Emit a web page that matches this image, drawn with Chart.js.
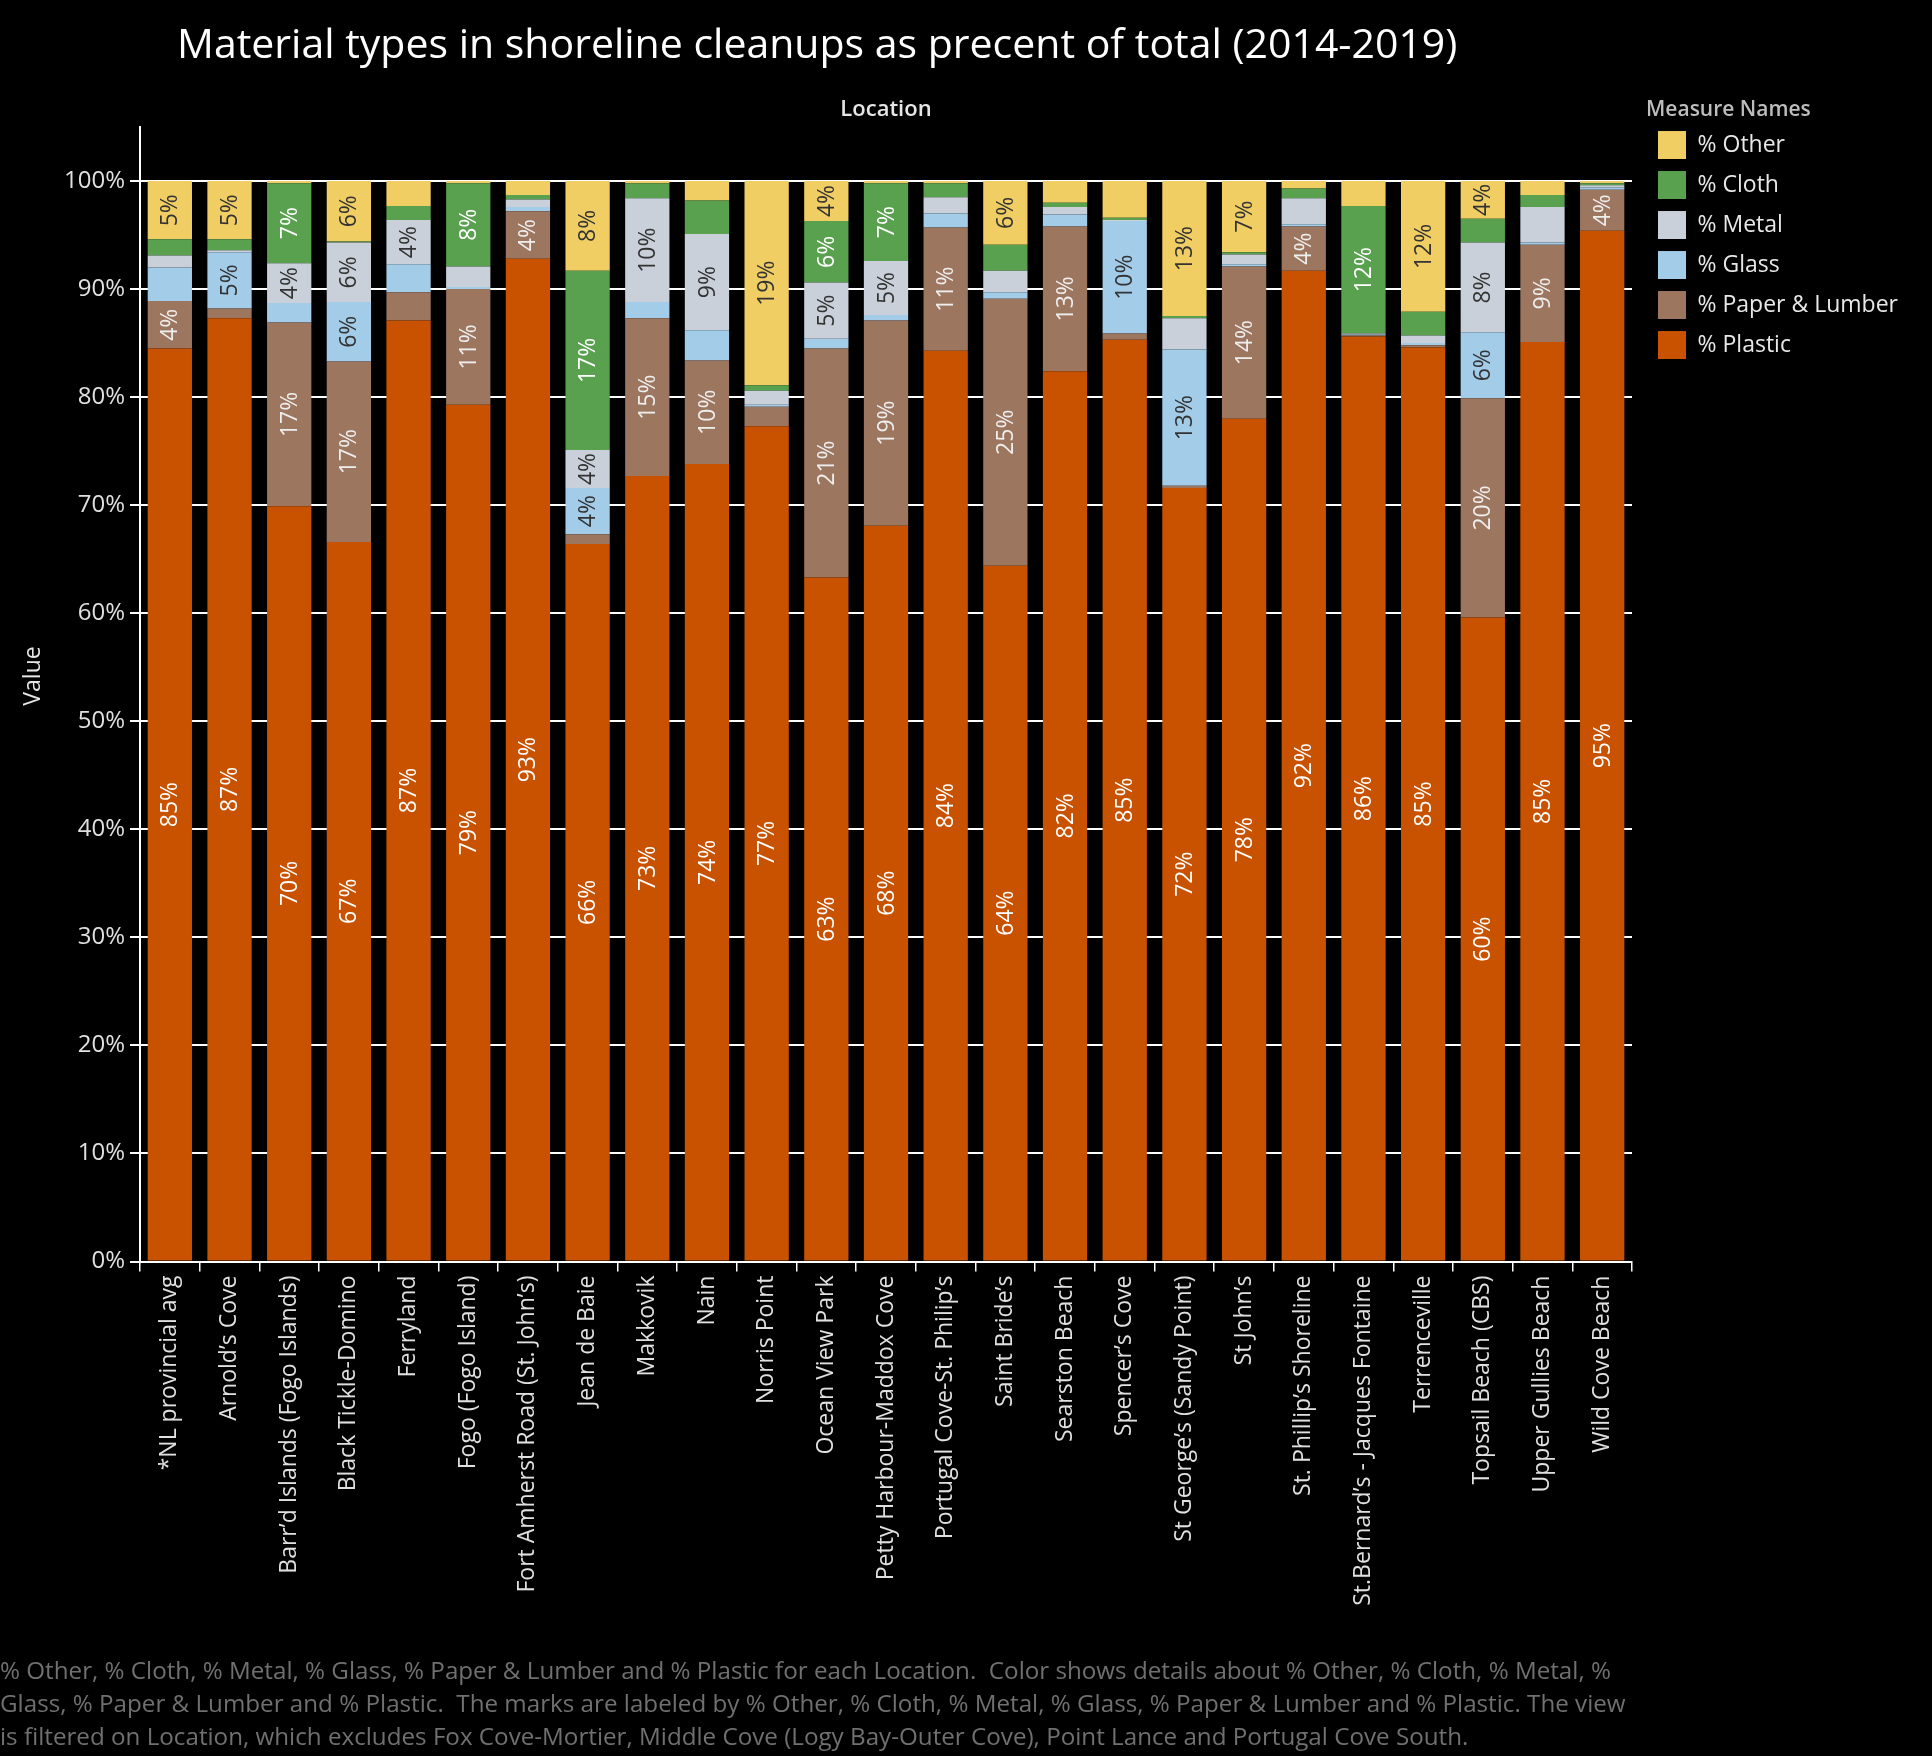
<!DOCTYPE html>
<html>
<head>
<meta charset="utf-8">
<title>Material types in shoreline cleanups</title>
<script src="https://cdn.jsdelivr.net/npm/chart.js@4.4.1/dist/chart.umd.min.js"></script>
<style>
  html, body { margin: 0; padding: 0; background: #000; }
  canvas { display: block; }
</style>
</head>
<body>
<canvas id="chart" width="1932" height="1756"></canvas>
<script>
'use strict';

const locations = [
  '*NL provincial avg', 'Arnold’s Cove', 'Barr’d Islands (Fogo Islands)', 'Black Tickle-Domino',
  'Ferryland', 'Fogo (Fogo Island)', 'Fort Amherst Road (St. John’s)', 'Jean de Baie', 'Makkovik',
  'Nain', 'Norris Point', 'Ocean View Park', 'Petty Harbour-Maddox Cove', 'Portugal Cove-St. Philip’s',
  'Saint Bride’s', 'Searston Beach', 'Spencer’s Cove', 'St George’s (Sandy Point)', 'St John’s',
  'St. Phillip’s Shoreline', 'St.Bernard’s - Jacques Fontaine', 'Terrenceville', 'Topsail Beach (CBS)',
  'Upper Gullies Beach', 'Wild Cove Beach'
];

const plastic = [84.5, 87.3, 69.9, 66.6, 87.1, 79.3, 92.8, 66.4, 72.7, 73.8, 77.3, 63.3, 68.1, 84.3, 64.4, 82.4, 85.3, 71.6, 78.0, 91.7, 85.6, 84.6, 59.6, 85.1, 95.4];
const paper   = [4.4, 0.9, 17.0, 16.7, 2.6, 10.7, 4.4, 0.9, 14.6, 9.6, 1.8, 21.2, 19.0, 11.4, 24.7, 13.4, 0.6, 0.2, 14.1, 4.1, 0.1, 0.2, 20.3, 9.0, 3.8];
const glass   = [3.1, 5.2, 1.8, 5.5, 2.6, 0.2, 0.4, 4.3, 1.5, 2.8, 0.2, 0.9, 0.5, 1.3, 0.6, 1.1, 10.4, 12.6, 0.2, 0.2, 0.1, 0.2, 6.1, 0.2, 0.2];
const metal   = [1.1, 0.2, 3.7, 5.5, 4.1, 1.9, 0.7, 3.5, 9.6, 8.9, 1.3, 5.2, 5.0, 1.5, 2.0, 0.7, 0.1, 2.9, 0.9, 2.4, 0.1, 0.7, 8.3, 3.3, 0.2];
const cloth   = [1.5, 1.0, 7.4, 0.1, 1.3, 7.7, 0.4, 16.6, 1.4, 3.1, 0.5, 5.7, 7.2, 1.3, 2.4, 0.4, 0.2, 0.2, 0.2, 0.9, 11.8, 2.2, 2.2, 1.1, 0.2];
const other   = [5.4, 5.4, 0.2, 5.6, 2.3, 0.2, 1.3, 8.3, 0.2, 1.8, 18.9, 3.7, 0.2, 0.2, 5.9, 2.0, 3.4, 12.5, 6.6, 0.7, 2.3, 12.1, 3.5, 1.3, 0.2];

const yTicks = [0, 10, 20, 30, 40, 50, 60, 70, 80, 90, 100];

const chartTitle = 'Material types in shoreline cleanups as precent of total (2014-2019)';
const yTitle = 'Value';
const caption = [
  '% Other, % Cloth, % Metal, % Glass, % Paper & Lumber and % Plastic for each Location.  Color shows details about % Other, % Cloth, % Metal, %',
  'Glass, % Paper & Lumber and % Plastic.  The marks are labeled by % Other, % Cloth, % Metal, % Glass, % Paper & Lumber and % Plastic. The view',
  'is filtered on Location, which excludes Fox Cove-Mortier, Middle Cove (Logy Bay-Outer Cove), Point Lance and Portugal Cove South.'
];

Chart.defaults.font.family = '"Open Sans", sans-serif';

// big title sits left of center and "Value" sits a bit above the axis middle,
// so both are drawn by hand
const headerText = {
  id: 'headerText',
  afterDraw(chart) {
    const ctx = chart.ctx;
    ctx.save();
    ctx.fillStyle = '#ffffff';
    ctx.font = '41px "Open Sans"';
    ctx.textBaseline = 'middle';
    ctx.textAlign = 'left';
    ctx.fillText(chartTitle, 177, 46);

    ctx.translate(33, 676);
    ctx.rotate(-Math.PI / 2);
    ctx.textAlign = 'center';
    ctx.fillStyle = '#e6e6e6';
    ctx.font = '23px "Open Sans"';
    ctx.fillText(yTitle, 0, 0);
    ctx.restore();
  }
};

// % labels inside the segments (only where they fit)
const segmentLabels = {
  id: 'segmentLabels',
  afterDatasetsDraw(chart) {
    const ctx = chart.ctx;
    ctx.save();
    ctx.font = '23px "Open Sans"';
    ctx.textAlign = 'center';
    ctx.textBaseline = 'middle';
    chart.data.datasets.forEach((ds, i) => {
      const meta = chart.getDatasetMeta(i);
      meta.data.forEach((bar, j) => {
        const v = ds.data[j];
        if (v < 3.5) return;
        ctx.save();
        ctx.translate(bar.x + 1, (bar.y + bar.base) / 2);
        ctx.rotate(-Math.PI / 2);
        ctx.fillStyle = ds.labelColor;
        ctx.fillText(Math.round(v) + '%', 0, 0);
        ctx.restore();
      });
    });
    ctx.restore();
  }
};

let canvasElem = document.getElementById('chart');

let chartObj = {
  type: 'bar',
  data: {
    labels: locations,
    datasets: [
      { label: '% Plastic', data: plastic, backgroundColor: '#C85200', labelColor: '#ffffff' },
      { label: '% Paper & Lumber', data: paper, backgroundColor: '#9D7660', labelColor: '#eeeeee' },
      { label: '% Glass', data: glass, backgroundColor: '#A3CCE9', labelColor: '#333333' },
      { label: '% Metal', data: metal, backgroundColor: '#C9D0D9', labelColor: '#333333' },
      { label: '% Cloth', data: cloth, backgroundColor: '#59A14F', labelColor: '#ffffff' },
      { label: '% Other', data: other, backgroundColor: '#F1CE63', labelColor: '#333333' }
    ]
  },
  options: {
    responsive: false,
    animation: false,
    devicePixelRatio: 1,
    events: [],
    datasets: {
      bar: { barPercentage: 0.742, categoryPercentage: 1.0, borderWidth: 0 }
    },
    layout: {
      padding: { top: 83, right: 24, bottom: 0, left: 0 }
    },
    plugins: {
      tooltip: { enabled: false },
      title: {
        display: true,
        text: 'Location',
        fullSize: false,
        align: 'center',
        color: '#e6e6e6',
        font: { size: 22, weight: '600' },
        padding: { top: 13.5, bottom: 4.1 }
      },
      subtitle: {
        display: true,
        position: 'bottom',
        align: 'start',
        text: caption,
        color: '#707070',
        font: { size: 24.2, lineHeight: 1.37 },
        padding: { top: 0, bottom: 1 }
      },
      legend: {
        position: 'right',
        align: 'start',
        reverse: true,
        labels: {
          boxWidth: 28,
          boxHeight: 28,
          padding: 12,
          color: '#e8e8e8',
          font: { size: 23 }
        },
        title: {
          display: true,
          text: 'Measure Names',
          position: 'start',
          color: '#bdbdbd',
          font: { size: 21, weight: '600', lineHeight: 0.93 },
          padding: { top: 16.5, bottom: 0 }
        }
      }
    },
    scales: {
      x: {
        stacked: true,
        afterFit(scale) { scale.height = 394; },
        grid: {
          display: true,
          drawOnChartArea: false,
          drawTicks: true,
          tickLength: 10,
          color: '#ffffff',
          lineWidth: 1.5,
          offset: true
        },
        border: { display: true, color: '#ffffff', width: 2 },
        ticks: {
          color: '#e0e0e0',
          font: { size: 23 },
          autoSkip: false,
          minRotation: 90,
          maxRotation: 90,
          padding: 4
        }
      },
      y: {
        stacked: true,
        min: 0,
        max: 105,
        afterFit(scale) { scale.width = 140; },
        afterBuildTicks(axis) {
          axis.ticks = yTicks.map(v => ({ value: v }));
        },
        ticks: {
          color: '#e0e0e0',
          font: { size: 24 },
          padding: 5,
          callback: v => v + '%'
        },
        grid: { color: '#ffffff', lineWidth: 2, tickLength: 10, drawTicks: true },
        border: { color: '#ffffff', width: 2 }
      },
      // empty spacer so the legend sits a little off the plot
      gap: {
        type: 'linear',
        axis: 'y',
        position: 'right',
        display: true,
        afterFit(scale) { scale.width = 14; },
        grid: { display: false },
        border: { display: false },
        ticks: { display: false }
      }
    }
  },
  plugins: [segmentLabels, headerText]
};

new Chart(canvasElem, chartObj);
</script>
</body>
</html>
